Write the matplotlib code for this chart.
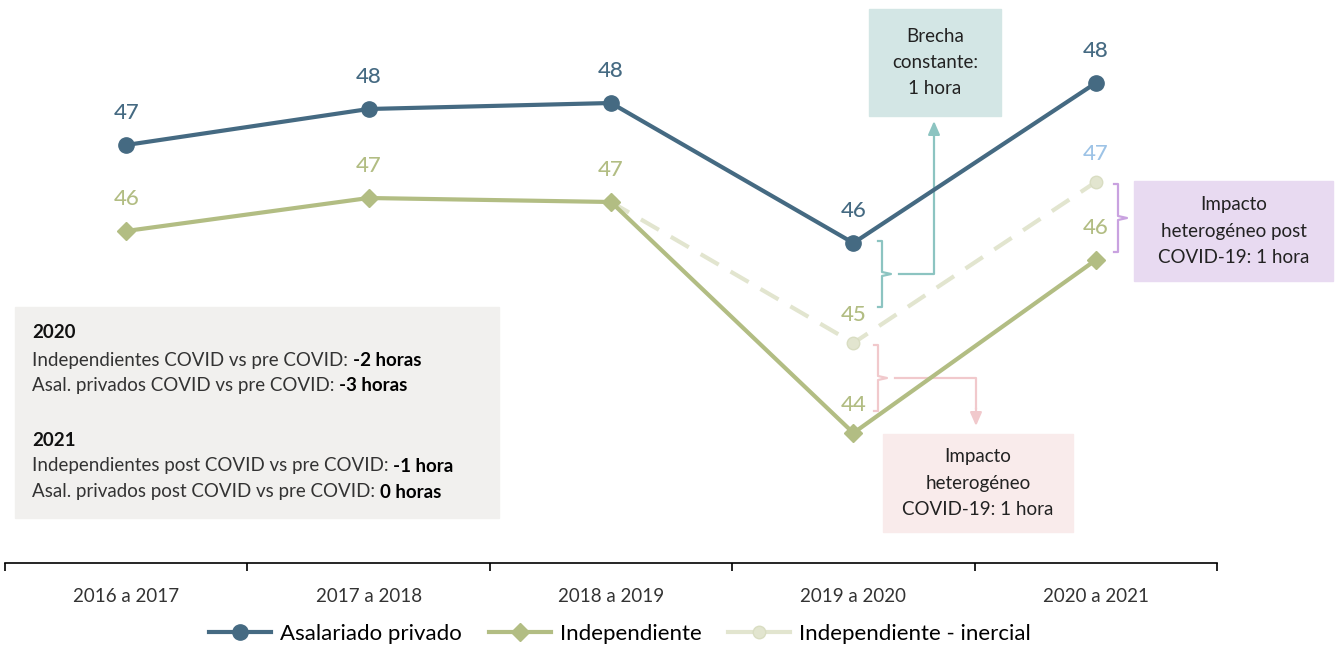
import numpy as np
import matplotlib
matplotlib.use("Agg")
import matplotlib.pyplot as plt
from matplotlib.lines import Line2D

plt.rcParams['font.family'] = ['Lato', 'DejaVu Sans']

# data (horas semanales promedio)
periodos = ['2016 a 2017', '2017 a 2018', '2018 a 2019', '2019 a 2020', '2020 a 2021']
asalariado = [47.30, 47.66, 47.72, 46.32, 47.92]
independiente = [46.44, 46.77, 46.73, 44.42, 46.15]
inercial = [np.nan, np.nan, 46.73, 45.32, 46.93]
lbl_asal = ['47', '48', '48', '46', '48']
lbl_ind = ['46', '47', '47', '44', '46']
lbl_iner = ['', '', '', '45', '47']

c_asal = '#456A82'
c_ind = '#B2BD83'
c_iner = '#E2E5CF'

W, H = 1335, 651
fig = plt.figure(figsize=(W / 100, H / 100), dpi=100)
ax = fig.add_axes([5 / W, 1 - 563 / H, 1212 / W, 563 / H])

x = np.arange(len(periodos))
ax.plot(x, inercial, color=c_iner, lw=3, dashes=(5, 3.3), marker='o', ms=9,
        markerfacecolor=c_iner, markeredgecolor='#D9DDC2', zorder=2)
ax.plot(x, independiente, color=c_ind, lw=3, marker='D', ms=9, zorder=3)
ax.plot(x, asalariado, color=c_asal, lw=3, marker='o', ms=11, zorder=4)

for i in range(len(x)):
    ax.annotate(lbl_asal[i], (x[i], asalariado[i]), xytext=(0, 23), textcoords='offset points',
                ha='center', va='center', fontsize=16, fontweight='medium', color=c_asal)
    ax.annotate(lbl_ind[i], (x[i], independiente[i]), xytext=(0, 23 if i != 3 else 20),
                textcoords='offset points', ha='center', va='center', fontsize=16,
                fontweight='medium', color=c_ind)
    if lbl_iner[i]:
        ax.annotate(lbl_iner[i], (x[i], inercial[i]), xytext=(0, 20), textcoords='offset points',
                    ha='center', va='center', fontsize=16, fontweight='medium',
                    color='#9DC3E6' if i == 4 else c_ind)

ax.set_xlim(-0.5, 4.5)
ax.set_ylim(43.12, 48.75)
ax.patch.set_visible(False)
for s in ['top', 'right', 'left']:
    ax.spines[s].set_visible(False)
ax.spines['bottom'].set_linewidth(1.2)
ax.set_yticks([])
ax.set_xticks(x)
ax.set_xticklabels(periodos, fontsize=13.5, color='#333333')
ax.tick_params(axis='x', which='major', length=0, pad=18)
ax.set_xticks(np.arange(-0.5, 5, 1), minor=True)
ax.tick_params(axis='x', which='minor', length=6, width=1.2, direction='out')


def fx(px):
    return px / W


def fy(py):
    return 1 - py / H


T = fig.transFigure


def rect(x0, y0, x1, y1, color):
    ax.add_patch(plt.Rectangle((fx(x0), fy(y1)), fx(x1) - fx(x0), fy(y0) - fy(y1),
                               transform=T, color=color, zorder=0, clip_on=False))


# caja de resumen
rect(15, 307, 499, 518, '#F1F0EE')
resumen = [
    (333, '2020', '', True),
    (360, 'Independientes COVID vs pre COVID: ', '-2 horas', False),
    (386, 'Asal. privados COVID vs pre COVID: ', '-3 horas', False),
    (440, '2021', '', True),
    (466, 'Independientes post COVID vs pre COVID: ', '-1 hora', False),
    (492, 'Asal. privados post COVID vs pre COVID: ', '0 horas', False),
]
for py, txt, neg, head in resumen:
    t = ax.text(fx(32), fy(py), txt, fontsize=13.5, va='center', ha='left', transform=T,
                fontweight='bold' if head else 'normal', color='#111111' if head else '#333333')
    if neg:
        ax.annotate(neg, xy=(1, 0), xycoords=t, va='bottom', ha='left',
                    fontsize=13.5, fontweight='bold', color='black', annotation_clip=False)


def caja(x0, y0, x1, y1, color, lines):
    rect(x0, y0, x1, y1, color)
    ax.text(fx((x0 + x1) / 2), fy((y0 + y1) / 2), lines, ha='center', va='center', transform=T,
            fontsize=13.5, color='#222222', linespacing=1.65)


def llave(xl, y0, y1, color, tip=9):
    ym = (y0 + y1) / 2
    xs = [xl - 4, xl, xl, xl + tip, xl, xl, xl - 4]
    ys = [y0, y0, ym - 2, ym, ym + 2, y1, y1]
    ax.add_line(Line2D([fx(v) for v in xs], [fy(v) for v in ys], transform=T,
                       color=color, lw=1.6, clip_on=False))


def flecha(pts, color):
    ax.add_line(Line2D([fx(p[0]) for p in pts[:-1]], [fy(p[1]) for p in pts[:-1]], transform=T,
                       color=color, lw=1.6, clip_on=False))
    ax.annotate('', xy=(fx(pts[-1][0]), fy(pts[-1][1])), xytext=(fx(pts[-2][0]), fy(pts[-2][1])),
                xycoords=T, textcoords=T, annotation_clip=False,
                arrowprops=dict(arrowstyle='-|>,head_width=0.35,head_length=0.8', color=color,
                                lw=1.6, shrinkA=0, shrinkB=0))


# brecha constante
teal = '#8CC4C1'
caja(869, 9, 1001, 116, '#D3E6E5', 'Brecha\nconstante:\n1 hora')
llave(882, 241, 307, teal)
flecha([(899, 274), (934, 274), (934, 136), (934, 121)], teal)

# impacto covid
pink = '#F1C9CC'
caja(883, 434, 1073, 532, '#F9EBEB', 'Impacto\nheterogéneo\nCOVID-19: 1 hora')
llave(878, 345, 411, pink)
flecha([(895, 378), (976, 378), (976, 408), (976, 426)], pink)

# impacto post covid
purple = '#C9A2E0'
caja(1134, 181, 1333, 281, '#E8DAF1', 'Impacto\nheterogéneo post\nCOVID-19: 1 hora')
llave(1118, 184, 252, purple)

handles = [
    Line2D([], [], color=c_asal, lw=3, marker='o', ms=11),
    Line2D([], [], color=c_ind, lw=3, marker='D', ms=9),
    Line2D([], [], color=c_iner, lw=3, marker='o', ms=9, markeredgecolor='#D9DDC2'),
]
fig.legend(handles, ['Asalariado privado', 'Independiente', 'Independiente - inercial'],
           loc='center', bbox_to_anchor=(fx(620), fy(634)), ncol=3, frameon=False,
           fontsize=16, handlelength=2.8, columnspacing=1.2, handletextpad=0.4)

fig.savefig('out.png', dpi=100)
